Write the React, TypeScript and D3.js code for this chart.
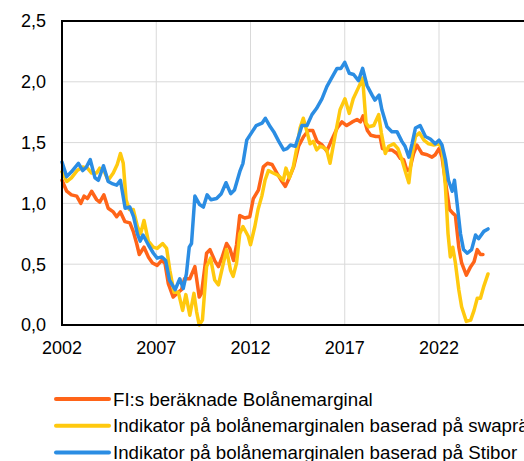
import React from 'react';
import * as d3 from 'd3';

type Point = [number, number];

// FI:s beräknade bolånemarginal (year, percentage points)
const fiMargin: Point[] = [
  [2002.0, 1.19], [2002.25, 1.10], [2002.5, 1.07], [2002.78, 1.06], [2003.0, 1.00], [2003.17, 1.06],
  [2003.35, 1.04], [2003.57, 1.10], [2003.84, 1.03], [2004.0, 1.01], [2004.22, 1.07], [2004.45, 0.96],
  [2004.72, 0.93], [2004.9, 0.89], [2005.1, 0.93], [2005.34, 0.85], [2005.6, 0.84], [2005.78, 0.77],
  [2005.96, 0.67], [2006.1, 0.58], [2006.35, 0.64], [2006.58, 0.56], [2006.8, 0.51], [2007.05, 0.49],
  [2007.28, 0.53], [2007.46, 0.51], [2007.64, 0.34], [2007.9, 0.23], [2008.1, 0.26], [2008.34, 0.29],
  [2008.5, 0.38], [2008.78, 0.38], [2009.05, 0.48], [2009.28, 0.23], [2009.4, 0.26], [2009.67, 0.59],
  [2009.85, 0.62], [2010.1, 0.53], [2010.3, 0.48], [2010.5, 0.56], [2010.73, 0.67], [2010.9, 0.63],
  [2011.1, 0.53], [2011.26, 0.66], [2011.43, 0.90], [2011.7, 0.88], [2011.96, 0.89], [2012.15, 1.04],
  [2012.42, 1.11], [2012.68, 1.30], [2012.9, 1.33], [2013.14, 1.32], [2013.4, 1.25], [2013.67, 1.18],
  [2013.85, 1.14], [2014.0, 1.19], [2014.29, 1.30], [2014.55, 1.47], [2014.82, 1.55], [2015.08, 1.60],
  [2015.3, 1.60], [2015.53, 1.51], [2015.8, 1.48], [2016.05, 1.43], [2016.3, 1.52], [2016.6, 1.62],
  [2016.85, 1.67], [2017.1, 1.64], [2017.4, 1.67], [2017.65, 1.69], [2017.83, 1.67], [2017.97, 1.72],
  [2018.2, 1.60], [2018.38, 1.56], [2018.65, 1.55], [2018.87, 1.55], [2019.0, 1.45], [2019.24, 1.44],
  [2019.5, 1.44], [2019.77, 1.41], [2019.95, 1.37], [2020.12, 1.36], [2020.3, 1.27], [2020.45, 1.28],
  [2020.65, 1.41], [2020.83, 1.48], [2021.1, 1.41], [2021.37, 1.40], [2021.63, 1.38], [2021.8, 1.40],
  [2022.0, 1.45], [2022.16, 1.38], [2022.38, 1.14], [2022.56, 0.95], [2022.73, 0.92], [2022.87, 0.90],
  [2023.05, 0.64], [2023.2, 0.51], [2023.45, 0.41], [2023.68, 0.48], [2023.86, 0.52], [2024.03, 0.62],
  [2024.2, 0.58], [2024.33, 0.58],
];

// Indikator baserad på swapräntor
const swapIndicator: Point[] = [
  [2002.0, 1.26], [2002.25, 1.18], [2002.5, 1.21], [2002.8, 1.27], [2003.1, 1.30], [2003.35, 1.29],
  [2003.57, 1.25], [2003.84, 1.25], [2004.0, 1.29], [2004.22, 1.27], [2004.45, 1.19], [2004.72, 1.25],
  [2004.93, 1.32], [2005.1, 1.41], [2005.25, 1.33], [2005.4, 1.03], [2005.57, 0.95], [2005.78, 0.95],
  [2006.0, 0.81], [2006.17, 0.75], [2006.35, 0.86], [2006.58, 0.69], [2006.84, 0.64], [2007.05, 0.63],
  [2007.34, 0.67], [2007.55, 0.63], [2007.72, 0.45], [2007.94, 0.27], [2008.17, 0.27], [2008.4, 0.12],
  [2008.57, 0.25], [2008.78, 0.08], [2009.0, 0.26], [2009.14, 0.11], [2009.28, 0.0], [2009.45, 0.04],
  [2009.67, 0.48], [2009.88, 0.55], [2010.1, 0.37], [2010.3, 0.33], [2010.52, 0.48], [2010.73, 0.62],
  [2010.94, 0.45], [2011.08, 0.40], [2011.26, 0.51], [2011.43, 0.75], [2011.6, 0.81], [2011.88, 0.73],
  [2012.0, 0.66], [2012.23, 0.81], [2012.4, 0.95], [2012.6, 1.06], [2012.77, 1.19], [2012.95, 1.27],
  [2013.2, 1.25], [2013.47, 1.23], [2013.74, 1.19], [2013.88, 1.29], [2014.06, 1.21], [2014.27, 1.30],
  [2014.45, 1.45], [2014.63, 1.62], [2014.8, 1.70], [2014.98, 1.60], [2015.16, 1.49], [2015.33, 1.51],
  [2015.51, 1.44], [2015.69, 1.47], [2015.86, 1.46], [2016.04, 1.44], [2016.22, 1.33], [2016.48, 1.55],
  [2016.75, 1.77], [2017.01, 1.86], [2017.24, 1.74], [2017.45, 1.86], [2017.72, 1.95], [2017.95, 2.03],
  [2018.13, 1.66], [2018.27, 1.63], [2018.54, 1.64], [2018.8, 1.73], [2018.94, 1.58], [2019.15, 1.41],
  [2019.33, 1.47], [2019.6, 1.49], [2019.82, 1.45], [2020.03, 1.36], [2020.2, 1.27], [2020.4, 1.17],
  [2020.57, 1.40], [2020.75, 1.55], [2020.96, 1.58], [2021.2, 1.52], [2021.45, 1.49], [2021.72, 1.48],
  [2022.0, 1.49], [2022.16, 1.45], [2022.34, 1.14], [2022.48, 0.75], [2022.6, 0.56], [2022.73, 0.64],
  [2022.87, 0.51], [2023.05, 0.29], [2023.2, 0.15], [2023.45, 0.03], [2023.68, 0.04], [2023.86, 0.12],
  [2024.03, 0.22], [2024.2, 0.22], [2024.38, 0.32], [2024.6, 0.42],
];

// Indikator baserad på Stibor
const stiborIndicator: Point[] = [
  [2002.0, 1.34], [2002.25, 1.22], [2002.5, 1.26], [2002.87, 1.33], [2003.1, 1.27], [2003.3, 1.30],
  [2003.5, 1.36], [2003.75, 1.21], [2003.93, 1.19], [2004.2, 1.31], [2004.45, 1.18], [2004.7, 1.16],
  [2004.9, 1.15], [2005.1, 1.19], [2005.35, 0.96], [2005.6, 0.97], [2005.8, 0.89], [2006.0, 0.75],
  [2006.15, 0.69], [2006.3, 0.74], [2006.58, 0.66], [2006.85, 0.59], [2007.05, 0.55], [2007.3, 0.56],
  [2007.5, 0.53], [2007.7, 0.37], [2008.0, 0.29], [2008.25, 0.38], [2008.43, 0.30], [2008.6, 0.42],
  [2008.75, 0.64], [2008.87, 0.67], [2009.05, 1.06], [2009.3, 0.99], [2009.5, 0.97], [2009.7, 1.07],
  [2009.9, 1.03], [2010.2, 1.04], [2010.45, 1.08], [2010.7, 1.17], [2010.95, 1.08], [2011.15, 1.11],
  [2011.45, 1.27], [2011.6, 1.33], [2011.8, 1.52], [2012.05, 1.58], [2012.3, 1.64], [2012.61, 1.66],
  [2012.79, 1.70], [2013.05, 1.63], [2013.23, 1.59], [2013.5, 1.51], [2013.76, 1.44], [2013.94, 1.45],
  [2014.12, 1.48], [2014.38, 1.47], [2014.55, 1.55], [2014.73, 1.64], [2015.0, 1.64], [2015.26, 1.73],
  [2015.5, 1.78], [2015.79, 1.86], [2016.05, 1.96], [2016.3, 2.03], [2016.59, 2.11], [2016.8, 2.11],
  [2017.0, 2.16], [2017.24, 2.07], [2017.47, 2.06], [2017.73, 2.01], [2017.95, 2.11], [2018.18, 1.97],
  [2018.45, 1.89], [2018.6, 1.85], [2018.82, 1.89], [2018.97, 1.77], [2019.24, 1.63], [2019.5, 1.59],
  [2019.77, 1.59], [2020.03, 1.51], [2020.2, 1.47], [2020.4, 1.38], [2020.57, 1.49], [2020.75, 1.62],
  [2021.0, 1.64], [2021.28, 1.55], [2021.54, 1.53], [2021.8, 1.49], [2022.0, 1.52], [2022.16, 1.48],
  [2022.34, 1.36], [2022.5, 1.19], [2022.7, 1.10], [2022.82, 1.19], [2022.96, 1.00], [2023.14, 0.75],
  [2023.3, 0.62], [2023.5, 0.59], [2023.73, 0.62], [2023.94, 0.74], [2024.1, 0.71], [2024.38, 0.77],
  [2024.6, 0.79],
];

const yTicks = [0, 0.5, 1, 1.5, 2, 2.5];
const xTicks = [2002, 2007, 2012, 2017, 2022];

const series = [
  { name: 'FI:s beräknade Bolånemarginal', color: '#ff6418', data: fiMargin },
  { name: 'Indikator på bolånemarginalen baserad på swapräntor', color: '#ffc90e', data: swapIndicator },
  { name: 'Indikator på bolånemarginalen baserad på Stibor', color: '#2b8de3', data: stiborIndicator },
];

const W = 524;
const H = 461;
const left = 62;
const top = 21;
const bottom = 325;

const font = '"Liberation Sans", Arial, sans-serif';
const fmt = d3.formatLocale({ decimal: ',', thousands: ' ', grouping: [3], currency: ['', ' kr'] }).format('.1f');

export default function App() {
  const x = d3.scaleLinear().domain([2002, 2027]).range([left, left + 25 * 18.85]);
  const y = d3.scaleLinear().domain([0, 2.5]).range([bottom, top]);
  const line = d3.line<Point>().x(d => x(d[0])).y(d => y(d[1]));

  return (
    <svg width={W} height={H} style={{ position: 'fixed', left: 0, top: 0, background: '#fff' }} fontFamily={font}>
      {/* grid */}
      {yTicks.slice(1, -1).map(t => (
        <line key={'gy' + t} x1={left} x2={W} y1={y(t)} y2={y(t)} stroke="#d9d9d9" strokeWidth={1} />
      ))}
      {xTicks.slice(1).map(t => (
        <line key={'gx' + t} x1={x(t)} x2={x(t)} y1={top} y2={bottom} stroke="#d9d9d9" strokeWidth={1} />
      ))}

      {/* series: orange below, blue on top */}
      {series.map(s => (
        <path key={s.name} d={line(s.data) ?? ''} fill="none" stroke={s.color} strokeWidth={3.5}
          strokeLinejoin="round" strokeLinecap="round" />
      ))}

      {/* frame */}
      <line x1={left} x2={W} y1={top} y2={top} stroke="#000" strokeWidth={2} />
      <line x1={left} x2={W} y1={bottom} y2={bottom} stroke="#000" strokeWidth={2} />
      <line x1={left} x2={left} y1={top - 1} y2={bottom + 1} stroke="#000" strokeWidth={2} />

      {/* y labels */}
      {yTicks.map(t => (
        <text key={'yl' + t} x={46} y={y(t)} dy="0.35em" textAnchor="end" fontSize={18} fill="#000">
          {fmt(t)}
        </text>
      ))}
      {/* x labels */}
      {xTicks.map(t => (
        <text key={'xl' + t} x={x(t)} y={354} textAnchor="middle" fontSize={18} fill="#000">
          {t}
        </text>
      ))}

      {/* legend */}
      {series.map((s, i) => {
        const by = 405.5 + i * 26.8;
        return (
          <g key={'lg' + i}>
            <line x1={56} x2={109} y1={by - 6.5} y2={by - 6.5} stroke={s.color} strokeWidth={4} strokeLinecap="round" />
            <text x={113} y={by} fontSize={18.7} fill="#000">{s.name}</text>
          </g>
        );
      })}
    </svg>
  );
}
